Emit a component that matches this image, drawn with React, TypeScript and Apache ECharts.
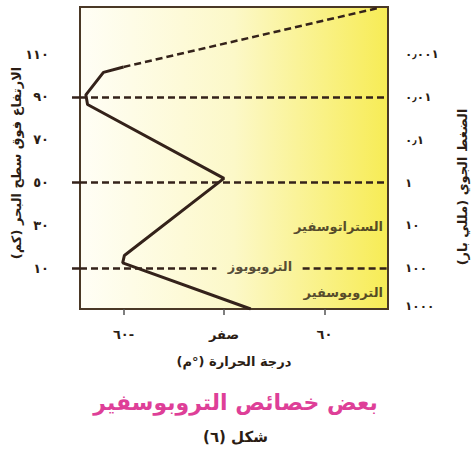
import React, { useEffect, useRef } from 'react';
import * as echarts from 'echarts';

// ---- data ----
const tempMin = -86;
const tempMax = 98;
const altMin = -9;
const altMax = 132;

const tempTicks = [-60, 0, 60];
const tempTickLabels = ['٦٠-', 'صفر', '٦٠'];

const altitudeTicks = [10, 30, 50, 70, 90, 110];
const altitudeLabels = ['١٠', '٣٠', '٥٠', '٧٠', '٩٠', '١١٠'];

const pressureAltitudes = [110, 90, 70, 50, 30, 10, -7.5];
const pressureLabels = ['٠٫٠٠١', '٠٫٠١', '٠٫١', '١', '١٠', '١٠٠', '١٠٠٠'];

// temperature profile [temp °C, altitude km]
const tempProfileSolid = [
  [16, -9],
  [-60.5, 12.5],
  [-59.5, 16],
  [0, 52],
  [-81.5, 86.5],
  [-82.5, 91],
  [-72, 101.5],
  [-60, 104],
];
const tempProfileDashed = [
  [-60, 104],
  [92, 131.5],
];

// boundary lines (altitude km)
const fullBoundaries = [90, 50];
const tropopauseAltitude = 10;
const tropopauseSegments = [
  [-86, -4.5],
  [47, 98],
];
const boundaryTickAltitudes = [10, 50, 90];

// layer names [temp, altitude]
const layerNames = ['الستراتوسفير', 'التروبوبوز', 'التروبوسفير'];
const layerPositions = [
  [95, 29.5],
  [21.5, 11],
  [95, -1.5],
];
const layerAlign = ['right', 'center', 'right'];

const xAxisTitle = 'درجة الحرارة (°م)';
const leftAxisTitle = 'الارتفاع فوق سطح البحر (كم)';
const rightAxisTitle = 'الضغط الجوي (مللي بار)';
const chartTitle = 'بعض خصائص التروبوسفير';
const figureCaption = 'شكل (٦)';

const FONT = "'DejaVu Sans', sans-serif";
const INK = '#2b1d14';
const LINE = '#34221a';
const BORDER = '#4a3826';

function pick(ticks: number[], labels: string[]) {
  return (v: number) => {
    const i = ticks.findIndex((t) => Math.abs(t - v) < 1e-6);
    return i >= 0 ? labels[i] : '';
  };
}

export default function App() {
  const ref = useRef<HTMLDivElement>(null);
  useEffect(() => {
    const chart = echarts.init(ref.current!, null, { renderer: 'svg' });

    const markLines: any[] = fullBoundaries.map((a) => [
      { coord: [tempMin, a] },
      { coord: [tempMax, a] },
    ]);
    tropopauseSegments.forEach(([x0, x1]) =>
      markLines.push([{ coord: [x0, tropopauseAltitude] }, { coord: [x1, tropopauseAltitude] }])
    );

    const option: any = {
      animation: false,
      textStyle: { fontFamily: FONT },
      title: [
        {
          text: chartTitle,
          left: 'center',
          top: 386,
          textStyle: { fontFamily: FONT, fontSize: 22, fontWeight: 'bold', color: '#de3f98' },
        },
        {
          text: figureCaption,
          left: 'center',
          top: 424,
          textStyle: { fontFamily: FONT, fontSize: 15, fontWeight: 'bold', color: INK },
        },
      ],
      grid: {
        left: 80,
        right: 83,
        top: 7,
        bottom: 144,
        show: true,
        borderColor: BORDER,
        borderWidth: 2,
        backgroundColor: new echarts.graphic.LinearGradient(0, 0, 1, 0, [
          { offset: 0, color: '#fffef6' },
          { offset: 0.5, color: '#fcf8c8' },
          { offset: 1, color: '#f7ec55' },
        ]),
      },
      xAxis: {
        type: 'value',
        min: tempMin,
        max: tempMax,
        position: 'bottom',
        name: xAxisTitle,
        nameLocation: 'middle',
        nameGap: 46,
        nameTextStyle: { fontFamily: FONT, fontSize: 13, fontWeight: 'bold', color: INK },
        axisLine: { show: true, onZero: false, lineStyle: { color: BORDER, width: 2 } },
        splitLine: { show: false },
        axisTick: {
          show: true,
          inside: false,
          customValues: tempTicks,
          length: 6,
          lineStyle: { color: '#555555', width: 1.5 },
        },
        axisLabel: {
          customValues: tempTicks,
          formatter: pick(tempTicks, tempTickLabels),
          margin: 19,
          fontFamily: FONT,
          fontSize: 13,
          fontWeight: 'bold',
          color: INK,
        },
      },
      yAxis: [
        {
          type: 'value',
          min: altMin,
          max: altMax,
          position: 'left',
          axisLine: { show: false, onZero: false },
          splitLine: { show: false },
          axisTick: {
            show: true,
            customValues: boundaryTickAltitudes,
            length: 8,
            lineStyle: { color: LINE, width: 2.5 },
          },
          axisLabel: {
            customValues: altitudeTicks,
            formatter: pick(altitudeTicks, altitudeLabels),
            margin: 31,
            fontFamily: FONT,
            fontSize: 13,
            fontWeight: 'bold',
            color: INK,
          },
        },
        {
          type: 'value',
          min: altMin,
          max: altMax,
          position: 'right',
          axisLine: { show: false, onZero: false },
          splitLine: { show: false },
          axisTick: { show: false },
          axisLabel: {
            customValues: pressureAltitudes,
            formatter: pick(pressureAltitudes, pressureLabels),
            margin: 17,
            fontFamily: FONT,
            fontSize: 12,
            fontWeight: 'bold',
            color: INK,
          },
        },
      ],
      graphic: [
        {
          type: 'text',
          x: 16,
          y: 163,
          rotation: Math.PI / 2,
          style: {
            text: leftAxisTitle,
            fontFamily: FONT,
            fontSize: 13,
            fontWeight: 'bold',
            fill: INK,
            align: 'center',
            verticalAlign: 'middle',
          },
        },
        {
          type: 'text',
          x: 462,
          y: 187,
          rotation: Math.PI / 2,
          style: {
            text: rightAxisTitle,
            fontFamily: FONT,
            fontSize: 13,
            fontWeight: 'bold',
            fill: INK,
            align: 'center',
            verticalAlign: 'middle',
          },
        },
      ],
      series: [
        {
          type: 'line',
          name: 'boundaries',
          data: [],
          silent: true,
          markLine: {
            silent: true,
            symbol: 'none',
            label: { show: false },
            lineStyle: { color: LINE, width: 2.5, type: [7, 4] },
            data: markLines,
          },
        },
        {
          type: 'line',
          name: 'temperature',
          data: tempProfileSolid,
          symbol: 'none',
          lineStyle: { color: LINE, width: 3 },
          z: 5,
        },
        {
          type: 'line',
          name: 'temperature-upper',
          data: tempProfileDashed,
          symbol: 'none',
          lineStyle: { color: LINE, width: 2.5, type: [7, 4] },
          z: 5,
        },
        {
          type: 'scatter',
          name: 'layers',
          symbolSize: 1,
          itemStyle: { color: 'rgba(0,0,0,0)' },
          silent: true,
          z: 6,
          data: layerNames.map((n, i) => ({
            name: n,
            value: layerPositions[i],
            label: {
              show: true,
              position: 'inside',
              formatter: '{b}',
              align: layerAlign[i],
              verticalAlign: 'middle',
              fontFamily: FONT,
              fontSize: 13,
              fontWeight: 'bold',
              color: INK,
            },
          })),
        },
      ],
    };

    chart.setOption(option);
    return () => chart.dispose();
  }, []);

  return (
    <div
      ref={ref}
      style={{ position: 'absolute', left: 0, top: 0, width: 471, height: 453 }}
    />
  );
}
